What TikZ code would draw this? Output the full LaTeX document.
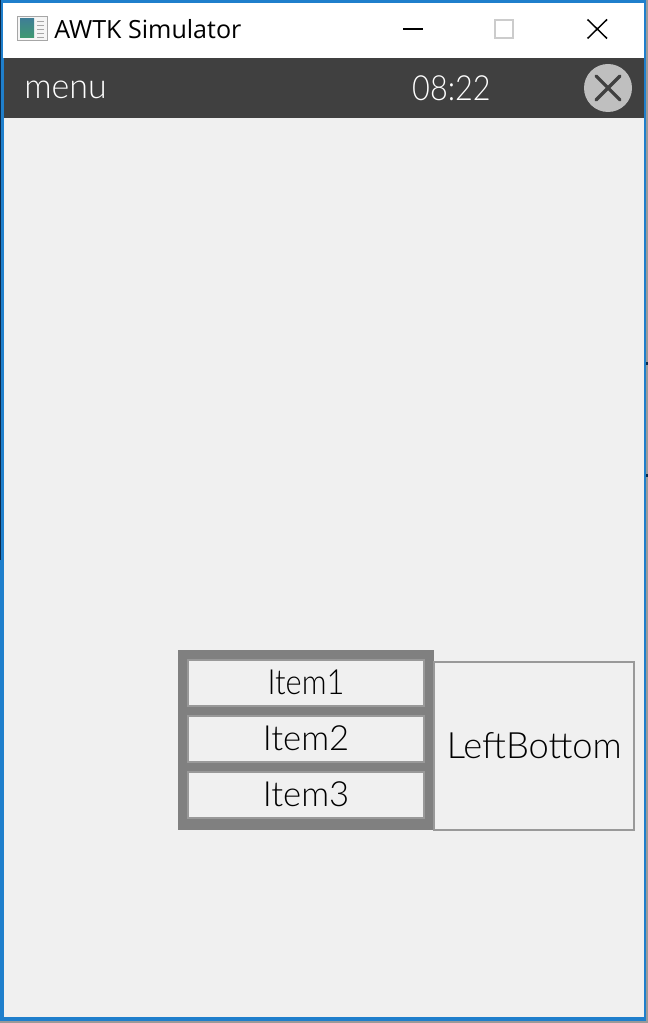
\documentclass[tikz,border=0pt]{standalone}
\usepackage{fontspec}
\usepackage{graphicx}
\setmainfont{Open Sans}
\newfontfamily\lightui{Lato Light}
\definecolor{framebg}{HTML}{F0F0F0}
\definecolor{barbg}{HTML}{404040}
\definecolor{edgeblue}{HTML}{1F7FCC}
\definecolor{outergrey}{HTML}{808080}
\definecolor{itemgrey}{HTML}{999999}
\definecolor{closegrey}{HTML}{BFBFBF}
\definecolor{shadow}{HTML}{9A9A9A}
\definecolor{navy}{HTML}{0B2A4A}
\definecolor{icontop}{HTML}{3F7F95}
\definecolor{iconbottom}{HTML}{3F9A70}
\tikzset{
  x=0.75pt,y=-0.75pt,
  itembox/.style={draw=itemgrey,line width=1.5pt,fill=framebg,minimum width=176.5pt,minimum height=35pt,inner sep=0pt,font=\lightui\fontsize{26}{26}\selectfont,text=black},
  sidebox/.style={draw=itemgrey,line width=1.5pt,fill=framebg,minimum width=150pt,minimum height=125.5pt,inner sep=0pt,font=\lightui\fontsize{27.2}{27}\selectfont,text=black},
  bartext/.style={inner sep=0pt,text=white,font=\lightui\fontsize{26}{26}\selectfont},
}
\begin{document}
\begin{tikzpicture}
\useasboundingbox (0,0) rectangle (648,1023);
% window frame
\fill[shadow] (0,0) rectangle (648,1023);
\fill[edgeblue] (0,0) rectangle (646,1020.5);
\fill[navy] (0,0) rectangle (1,560);
\fill[navy] (646,362) rectangle (648,365);
\fill[navy] (646,474) rectangle (648,477);
\fill[white] (3,3) rectangle (644,58);
\fill[framebg] (4,118) rectangle (644,1017);
\fill[barbg] (4,58) rectangle (644,118);
% title bar
\fill[gray!70] (17,16) rectangle (48,41);
\fill[white!92!gray] (18,17) rectangle (47,40);
\shade[top color=icontop,bottom color=iconbottom] (20,19) rectangle (34,38);
\foreach \yy in {21,25,29,33,37}{\fill[gray!70] (37,\yy) rectangle (44,\yy+1.5);}
\node[anchor=west,inner sep=0pt,text=black,font=\fontsize{18.8}{20}\selectfont] (title) at (54,29) {AWTK Simulator};
\draw[black,line width=1.5pt] (403,29) -- (423,29);
\draw[draw=closegrey!80,line width=1.5pt] (495,20) rectangle (513,38);
\draw[black,line width=1.1pt] (587.5,19.5) -- (607,38.5) (607,19.5) -- (587.5,38.5);
% header bar
\node[bartext,anchor=west] (menu) at (24,90) {\scalebox{0.98}[1]{menu}};
\node[bartext] (clock) at (451.5,88) {\scalebox{0.885}[1]{08:22}};
\fill[closegrey] (608,88) circle (24);
\draw[barbg,line width=2.4pt,line cap=round] (596,76) -- (620,100) (620,76) -- (596,100);
% popup
\fill[outergrey] (178,650) rectangle (434,830);
\node[itembox] (item1) at (306,683) {\raisebox{0.7pt}{\scalebox{0.89}[1]{Item1}}};
\node[itembox] (item2) at (306,739) {\raisebox{0.7pt}{Item2}};
\node[itembox] (item3) at (306,795) {\raisebox{0.7pt}{Item3}};
\node[sidebox] (left) at (534.3,746) {\raisebox{0.7pt}{LeftBottom}};
\end{tikzpicture}
\end{document}
